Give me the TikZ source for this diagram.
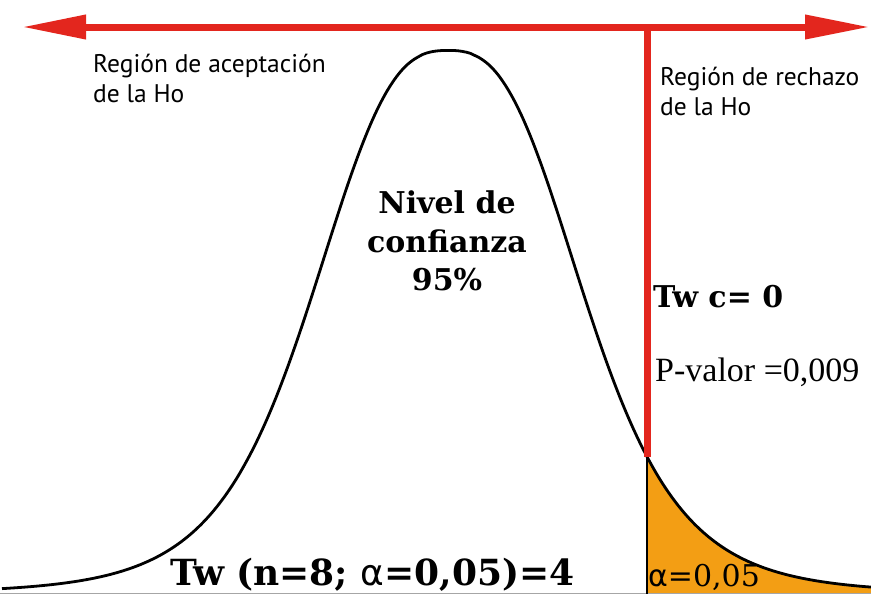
\documentclass[tikz,border=0pt]{standalone}
\usepackage{fontspec}
\setmainfont{DejaVu Serif}
\newfontfamily\regionfont{PT Sans}
\newfontfamily\pvalfont{Liberation Serif}
\newfontfamily\greekfont{DejaVu Sans}
\usetikzlibrary{arrows.meta}
\definecolor{flecha}{RGB}{227,38,30}
\definecolor{cola}{RGB}{243,158,20}
\tikzset{
  region/.style={anchor=base west, align=left, inner sep=0pt, font=\regionfont\fontsize{25.5}{30}\selectfont},
  negrita/.style={inner sep=0pt, font=\bfseries\fontsize{30}{38.5}\selectfont},
  declare function={dens(\x)=543/(1+((abs(\x-448)+0.001)/207)^2.7)^2.15;},
}

\begin{document}
\begin{tikzpicture}[x=1pt, y=-1pt]
	\useasboundingbox (0,0) rectangle (871,595);
	\coordinate (L) at (22,27);
	\coordinate (R) at (870,27);
	\coordinate (T) at (647,27);
	\coordinate (C) at (647,{593.5-dens(647)});
	\coordinate (D) at (647,593.5);

	\fill [cola] (D) -- plot [domain=647:871, samples=60] (\x,{593.5-dens(\x)}) -- (871,593.5) -- cycle;
	\draw [gray!70, line width=1.5] (0,593.5) -- (871,593.5);
	\draw [line width=2.8, line join=round] plot [domain=2:871, samples=220, smooth] (\x,{593.5-dens(\x)});
	\draw [line width=1.5] (C) -- (D);
	\draw [flecha, line width=7, {Triangle[length=64pt, width=23pt]}-{Triangle[length=65pt, width=23pt]}] (L) -- (R);
	\draw [flecha, line width=7] (T) -- (C);

	\node [region] (acept) at (93,102) {Región de aceptación\\de la Ho};
	\node [region] (rech) at (660,115) {Región de rechazo\\de la Ho};
	\node [negrita, align=center] (nivel) at (447,241) {Nivel de\\confianza\\95\%};
	\node [negrita, anchor=base west] (twc) at (653,307) {Tw c= 0};
	\node [anchor=base west, inner sep=0pt, font=\pvalfont\fontsize{34}{34}\selectfont] (pval) at (655,381) {P-valor =0,009};
	\node [anchor=base west, inner sep=0pt, font=\bfseries\fontsize{36}{36}\selectfont] (tw) at (170,585) {Tw (n=8; {\mdseries\greekfont α}=0,05)=4};
	\node [anchor=base west, inner sep=0pt, font=\fontsize{30}{30}\selectfont] (alfa) at (648,586) {{\greekfont α}=0,05};
\end{tikzpicture}
\end{document}
